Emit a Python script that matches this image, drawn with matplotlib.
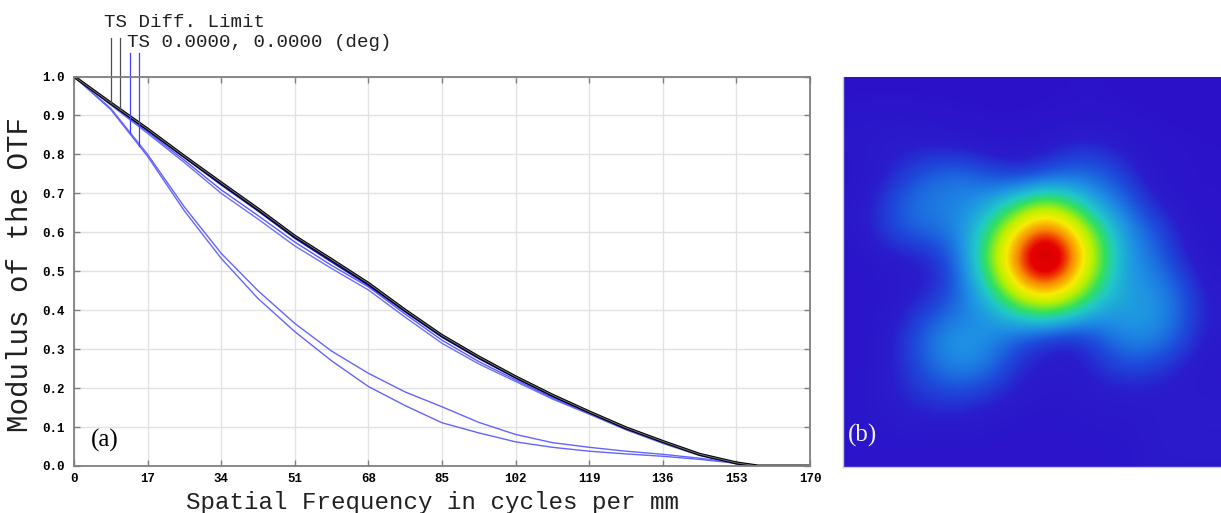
import numpy as np
import matplotlib
matplotlib.use("Agg")
import matplotlib.pyplot as plt
from matplotlib.colors import LinearSegmentedColormap

# spatial frequency samples (cycles/mm)
freq = [0, 8.5, 17, 25.5, 34, 42.5, 51, 59.5, 68, 76.5, 85, 93.5, 102,
        110.5, 119, 127.5, 136, 144.5, 153, 158, 170]

# diffraction limit (T and S coincide)
diff_limit = [1.0, 0.932, 0.865, 0.795, 0.727, 0.66, 0.59, 0.53, 0.469, 0.40,
              0.335, 0.28, 0.229, 0.182, 0.139, 0.098, 0.063, 0.03, 0.008, 0.0, 0.0]

# field curves close to the limit
near_a = [1.0, 0.930, 0.862, 0.792, 0.722, 0.655, 0.585, 0.524, 0.464, 0.396,
          0.331, 0.276, 0.226, 0.179, 0.137, 0.096, 0.062, 0.029, 0.007, 0.0, 0.0]
near_b = [1.0, 0.928, 0.858, 0.785, 0.709, 0.643, 0.575, 0.515, 0.46, 0.39,
          0.323, 0.268, 0.221, 0.175, 0.135, 0.094, 0.06, 0.028, 0.006, 0.0, 0.0]
near_c = [1.0, 0.927, 0.854, 0.779, 0.700, 0.634, 0.565, 0.507, 0.452, 0.382,
          0.315, 0.262, 0.217, 0.172, 0.133, 0.093, 0.058, 0.027, 0.005, 0.0, 0.0]

# degraded field curves
low_t = [1.0, 0.918, 0.80, 0.665, 0.546, 0.45, 0.366, 0.295, 0.238, 0.19,
         0.152, 0.112, 0.081, 0.06, 0.048, 0.038, 0.03, 0.02, 0.008, 0.0, 0.0]
low_s = [1.0, 0.915, 0.795, 0.655, 0.533, 0.43, 0.345, 0.27, 0.204, 0.155,
         0.111, 0.085, 0.062, 0.048, 0.038, 0.031, 0.025, 0.017, 0.007, 0.0, 0.0]

x_ticks = [0, 17, 34, 51, 68, 85, 102, 119, 136, 153, 170]
y_ticks = [0.0, 0.1, 0.2, 0.3, 0.4, 0.5, 0.6, 0.7, 0.8, 0.9, 1.0]

# legend leader lines: x position and top y
leg_x = [8.6, 10.65, 12.97, 15.05]
leg_top = [1.10, 1.10, 1.06, 1.06]

# PSF intensity (coarse grid, normalised)
psf = np.array([
    [0.03, 0.03, 0.03, 0.03, 0.03, 0.03, 0.03, 0.03, 0.04, 0.04, 0.03, 0.03, 0.03, 0.03],
    [0.07, 0.08, 0.08, 0.06, 0.05, 0.04, 0.04, 0.05, 0.06, 0.06, 0.05, 0.04, 0.03, 0.03],
    [0.08, 0.10, 0.12, 0.12, 0.11, 0.08, 0.07, 0.10, 0.15, 0.15, 0.10, 0.06, 0.05, 0.04],
    [0.06, 0.12, 0.20, 0.26, 0.27, 0.22, 0.18, 0.22, 0.26, 0.25, 0.18, 0.08, 0.05, 0.04],
    [0.08, 0.18, 0.27, 0.30, 0.31, 0.36, 0.48, 0.58, 0.48, 0.34, 0.26, 0.14, 0.08, 0.05],
    [0.08, 0.18, 0.25, 0.27, 0.33, 0.50, 0.72, 0.82, 0.72, 0.50, 0.33, 0.24, 0.12, 0.06],
    [0.06, 0.10, 0.12, 0.16, 0.32, 0.58, 0.82, 1.00, 0.82, 0.56, 0.34, 0.28, 0.15, 0.07],
    [0.05, 0.07, 0.10, 0.14, 0.29, 0.48, 0.72, 0.80, 0.70, 0.48, 0.34, 0.32, 0.24, 0.10],
    [0.05, 0.08, 0.15, 0.24, 0.29, 0.34, 0.45, 0.52, 0.45, 0.34, 0.35, 0.34, 0.26, 0.12],
    [0.05, 0.10, 0.20, 0.31, 0.35, 0.31, 0.22, 0.15, 0.12, 0.22, 0.30, 0.30, 0.22, 0.10],
    [0.05, 0.10, 0.18, 0.27, 0.31, 0.26, 0.15, 0.10, 0.10, 0.15, 0.20, 0.18, 0.12, 0.08],
    [0.06, 0.10, 0.15, 0.18, 0.18, 0.15, 0.10, 0.08, 0.08, 0.10, 0.10, 0.10, 0.10, 0.10],
    [0.06, 0.08, 0.10, 0.10, 0.10, 0.08, 0.06, 0.06, 0.07, 0.08, 0.08, 0.10, 0.12, 0.12],
    [0.05, 0.05, 0.05, 0.05, 0.05, 0.05, 0.05, 0.05, 0.05, 0.05, 0.06, 0.10, 0.10, 0.10],
])

psf_stops = [0.0, 0.12, 0.22, 0.32, 0.42, 0.5, 0.6, 0.68, 0.77, 0.85, 1.0]
psf_colors = ["#2c0fc8", "#2a1ccc", "#1c50dc", "#1e90e4", "#20c8c8", "#30e060",
              "#b8f000", "#f8ec00", "#f88a00", "#e80000", "#b40000"]

mono = "Liberation Mono"
W, H = 1221, 513
fig = plt.figure(figsize=(W / 100, H / 100), dpi=100)

# ---- (a) MTF plot
ax = fig.add_axes([74 / W, (H - 466) / H, 736 / W, 389.5 / H])
ax.plot(freq, low_t, color="#6464ff", lw=1)
ax.plot(freq, low_s, color="#6464ff", lw=1)
ax.plot(freq, near_c, color="#6e6eff", lw=1)
ax.plot(freq, near_b, color="#5a5aff", lw=1)
ax.plot(freq, near_a, color="#1010e0", lw=1.2)
ax.plot(freq, diff_limit, color="black", lw=2.2)
ax.plot(freq, diff_limit, color="#707070", lw=0.7)

ax.set_xlim(0, 170)
ax.set_ylim(0, 1)
ax.set_xticks(x_ticks)
ax.set_yticks(y_ticks)
ax.set_xticklabels([str(v) for v in x_ticks])
ax.set_yticklabels(["%.1f" % v for v in y_ticks])
ax.grid(True, color="#e2e2e2", lw=1)
ax.set_axisbelow(True)
ax.tick_params(direction="in", length=4.5, width=1, color="#808080",
               top=True, right=True)
ax.tick_params(axis="x", pad=5)
ax.tick_params(axis="y", pad=7)
for lab in ax.get_xticklabels() + ax.get_yticklabels():
    lab.set_fontfamily(mono)
    lab.set_fontweight("bold")
    lab.set_fontsize(9)
for sp in ax.spines.values():
    sp.set_color("#808080")
    sp.set_linewidth(1.3)

# legend leader lines
curves = [diff_limit, diff_limit, low_t, low_s]
leg_cols = ["#505050", "#505050", "#4040ff", "#4040ff"]
for lx, lt, cv, lc in zip(leg_x, leg_top, curves, leg_cols):
    ax.plot([lx, lx], [lt, np.interp(lx, freq, cv)], color=lc, lw=0.9,
            clip_on=False)
ax.text(6.9, 1.127, "TS Diff. Limit", fontfamily=mono, fontsize=13.8,
        va="baseline", ha="left", color="#202020")
ax.text(12.2, 1.076, "TS 0.0000, 0.0000 (deg)", fontfamily=mono,
        fontsize=13.8, va="baseline", ha="left", color="#202020")

ax.text(3.8, 0.065, "(a)", fontfamily="Liberation Serif", fontsize=18,
        va="center", ha="left")

fig.text(433 / W, (H - 509) / H, "Spatial Frequency in cycles per mm",
         fontfamily=mono, fontsize=17.4, ha="center", va="baseline",
         color="#202020")
fig.text(20 / W, (H - 275) / H, "Modulus of the OTF", fontfamily=mono,
         fontsize=21, rotation=90, ha="center", va="center", color="#202020")

# ---- (b) PSF image
ax2 = fig.add_axes([843 / W, (H - 467) / H, 378 / W, 390 / H])
cmap = LinearSegmentedColormap.from_list("psf", list(zip(psf_stops, psf_colors)))
ax2.imshow(psf, cmap=cmap, vmin=0, vmax=1, interpolation="bicubic",
           aspect="auto")
ax2.set_xticks([])
ax2.set_yticks([])
for s in ["top", "right"]:
    ax2.spines[s].set_visible(False)
for s in ["left", "bottom"]:
    ax2.spines[s].set_color("#c8c8d8")
    ax2.spines[s].set_linewidth(1)
ax2.text(0.013, 0.08, "(b)", transform=ax2.transAxes,
         fontfamily="Liberation Serif", fontsize=18, color="#f0f0f0",
         va="center", ha="left")

fig.savefig("out.png", dpi=100)
